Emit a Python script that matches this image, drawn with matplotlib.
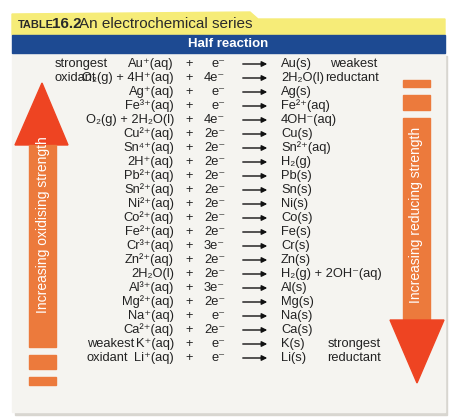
import matplotlib
matplotlib.use("Agg")
import matplotlib.pyplot as plt
from matplotlib.patches import Polygon, Rectangle

oxidants = ["Au⁺(aq)", "O₂(g) + 4H⁺(aq)", "Ag⁺(aq)", "Fe³⁺(aq)", "O₂(g) + 2H₂O(l)",
            "Cu²⁺(aq)", "Sn⁴⁺(aq)", "2H⁺(aq)", "Pb²⁺(aq)", "Sn²⁺(aq)", "Ni²⁺(aq)",
            "Co²⁺(aq)", "Fe²⁺(aq)", "Cr³⁺(aq)", "Zn²⁺(aq)", "2H₂O(l)", "Al³⁺(aq)",
            "Mg²⁺(aq)", "Na⁺(aq)", "Ca²⁺(aq)", "K⁺(aq)", "Li⁺(aq)"]
electrons = ["e⁻", "4e⁻", "e⁻", "e⁻", "4e⁻", "2e⁻", "2e⁻", "2e⁻", "2e⁻", "2e⁻", "2e⁻",
             "2e⁻", "2e⁻", "3e⁻", "2e⁻", "2e⁻", "3e⁻", "2e⁻", "e⁻", "2e⁻", "e⁻", "e⁻"]
reductants = ["Au(s)", "2H₂O(l)", "Ag(s)", "Fe²⁺(aq)", "4OH⁻(aq)", "Cu(s)", "Sn²⁺(aq)",
              "H₂(g)", "Pb(s)", "Sn(s)", "Ni(s)", "Co(s)", "Fe(s)", "Cr(s)", "Zn(s)",
              "H₂(g) + 2OH⁻(aq)", "Al(s)", "Mg(s)", "Na(s)", "Ca(s)", "K(s)", "Li(s)"]
title = "An electrochemical series"
header = "Half reaction"

FAM = ["Liberation Sans", "DejaVu Sans"]
fig = plt.figure(figsize=(4.74, 4.20), dpi=100)
ax = fig.add_axes([0, 0, 1, 1])
ax.set_xlim(0, 474); ax.set_ylim(420, 0); ax.axis("off")

# body
ax.add_patch(Rectangle((15, 56), 432, 359, color="#d8d6d0", zorder=0))
ax.add_patch(Rectangle((12, 53), 433, 359, color="#f5f4f0", zorder=1))
# yellow header with tab
ax.add_patch(Polygon([(12, 35), (12, 14), (250, 12), (258, 19), (445, 19), (445, 35)],
                     closed=True, color="#f6ec78", zorder=1))
ax.text(18, 25, "TABLE", fontsize=8, fontweight="bold", color="#2a2a2a", va="center", family=FAM)
ax.text(52, 24, "16.2", fontsize=11, fontweight="bold", color="#2a2a2a", va="center", family=FAM)
ax.text(79, 24, title, fontsize=11, color="#2a2a2a", va="center", family=FAM)
ax.add_patch(Rectangle((12, 35), 433, 18, color="#1d4a92", zorder=2))
ax.text(228, 44, header, fontsize=9.5, fontweight="bold", color="white", ha="center", va="center", family=FAM, zorder=3)

# left arrow (up)
red = "#ee4422"; org = "#ec7a3c"
ax.add_patch(Polygon([(42, 83), (68, 145), (15, 145)], closed=True, color=red, zorder=2))
ax.add_patch(Rectangle((29, 145), 27, 202, color=org, zorder=2))
ax.add_patch(Rectangle((29, 355), 27, 14, color=org, zorder=2))
ax.add_patch(Rectangle((29, 377), 27, 8, color=org, zorder=2))
ax.text(43, 225, "Increasing oxidising strength", rotation=90, color="white", fontsize=10,
        ha="center", va="center", family=FAM, zorder=3)
# right arrow (down)
ax.add_patch(Rectangle((403, 80), 27, 7, color=org, zorder=2))
ax.add_patch(Rectangle((403, 95), 27, 15, color=org, zorder=2))
ax.add_patch(Rectangle((403, 118), 27, 202, color=org, zorder=2))
ax.add_patch(Polygon([(390, 320), (444, 320), (417, 383)], closed=True, color=red, zorder=2))
ax.text(416, 215, "Increasing reducing strength", rotation=90, color="white", fontsize=10,
        ha="center", va="center", family=FAM, zorder=3)

y0, dy = 64, 14.0
fs = 9.3
col = "#222222"
for i, (o, e, r) in enumerate(zip(oxidants, electrons, reductants)):
    y = y0 + i * dy
    ax.text(174, y, o, ha="right", va="center", fontsize=fs, color=col, family=FAM, zorder=4)
    ax.text(189, y, "+", ha="center", va="center", fontsize=fs, color=col, family=FAM, zorder=4)
    ax.text(225, y, e, ha="right", va="center", fontsize=fs, color=col, family=FAM, zorder=4)
    ax.annotate("", xy=(270, y), xytext=(240, y),
                arrowprops=dict(arrowstyle="-|>", color="#111111", lw=1.0, mutation_scale=8), zorder=4)
    ax.text(281, y, r, ha="left", va="center", fontsize=fs, color=col, family=FAM, zorder=4)

yl = y0 + (len(oxidants) - 1) * dy
for x, y, s in [(55, y0, "strongest"), (55, y0 + dy, "oxidant"), (330, y0, "weakest"),
                (325, y0 + dy, "reductant"), (87, yl - dy, "weakest"), (87, yl, "oxidant"),
                (328, yl - dy, "strongest"), (327, yl, "reductant")]:
    ax.text(x, y, s, ha="left", va="center", fontsize=fs, color=col, family=FAM, zorder=4)

fig.savefig("out.png", dpi=100)
